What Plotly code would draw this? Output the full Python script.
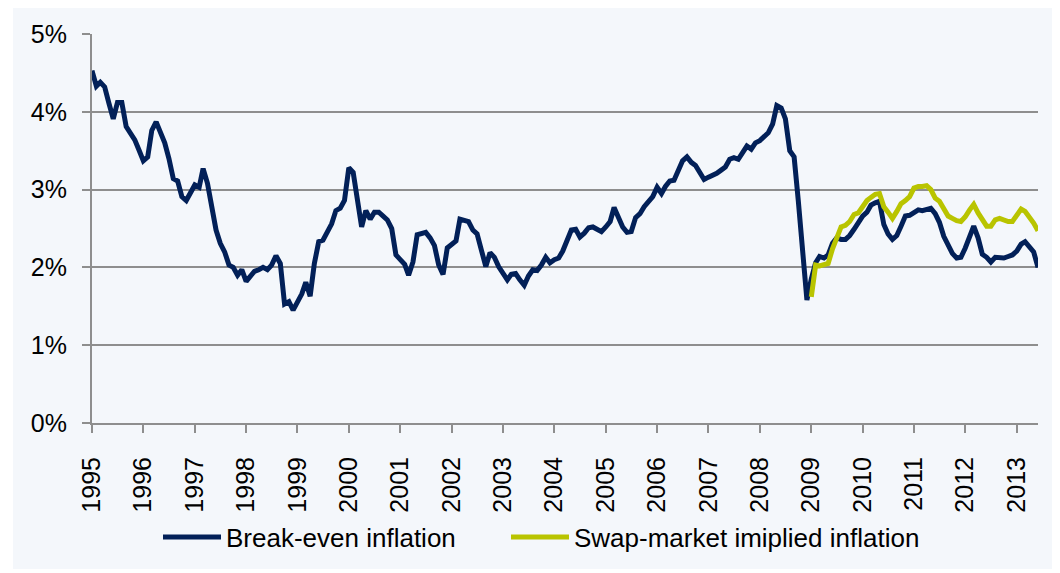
import pandas as pd
import plotly.graph_objects as go

# Monthly observations, Jan 1995 .. Jun 2013
start_month = "1995-01-01"
n_months = 222

break_even = [
    4.53, 4.33, 4.38, 4.32, 4.11, 3.91, 4.12, 4.12, 3.81, 3.73, 3.64, 3.51,
    3.37, 3.42, 3.76, 3.87, 3.73, 3.60, 3.40, 3.14, 3.11, 2.91, 2.86, 2.97,
    3.06, 3.03, 3.27, 3.08, 2.82, 2.48, 2.31, 2.20, 2.03, 2.00, 1.90, 1.97,
    1.82, 1.88, 1.95, 1.97, 2.00, 1.97, 2.03, 2.15, 2.05, 1.53, 1.56, 1.45,
    1.56, 1.66, 1.81, 1.63, 2.05, 2.33, 2.35, 2.47, 2.56, 2.73, 2.76, 2.86,
    3.28, 3.22, 2.91, 2.52, 2.73, 2.62, 2.71, 2.71, 2.66, 2.61, 2.50, 2.16,
    2.10, 2.04, 1.90, 2.07, 2.42, 2.43, 2.45, 2.38, 2.28, 2.03, 1.91, 2.25,
    2.30, 2.34, 2.62, 2.61, 2.59, 2.48, 2.43, 2.22, 2.01, 2.19, 2.13, 2.01,
    1.91, 1.84, 1.91, 1.92, 1.84, 1.77, 1.89, 1.97, 1.96, 2.03, 2.13, 2.06,
    2.10, 2.12, 2.21, 2.34, 2.48, 2.49, 2.39, 2.44, 2.51, 2.52, 2.49, 2.46,
    2.52, 2.59, 2.77, 2.65, 2.52, 2.45, 2.46, 2.64, 2.69, 2.78, 2.84, 2.91,
    3.03, 2.95, 3.04, 3.11, 3.12, 3.23, 3.37, 3.42, 3.35, 3.31, 3.22, 3.13,
    3.16, 3.18, 3.21, 3.25, 3.29, 3.39, 3.41, 3.39, 3.47, 3.56, 3.52, 3.60,
    3.63, 3.69, 3.73, 3.84, 4.08, 4.05, 3.91, 3.50, 3.42, 2.85, 2.14, 1.58,
    1.85, 2.06, 2.14, 2.12, 2.16, 2.31, 2.38, 2.36, 2.36, 2.41, 2.49, 2.59,
    2.66, 2.71, 2.80, 2.83, 2.85, 2.55, 2.43, 2.36, 2.41, 2.53, 2.66, 2.67,
    2.70, 2.74, 2.73, 2.74, 2.76, 2.69, 2.58, 2.40, 2.28, 2.18, 2.12, 2.13,
    2.25, 2.40, 2.53, 2.38, 2.17, 2.13, 2.07, 2.13, 2.12, 2.12, 2.14, 2.16,
    2.21, 2.30, 2.33, 2.27, 2.20, 2.00,
]

# Swap-market implied inflation starts Jan 2009 (month index 168)
swap_start_index = 168
swap_implied = [
    1.62, 2.03, 2.02, 2.03, 2.05, 2.24, 2.38, 2.52, 2.54, 2.59, 2.68, 2.70,
    2.78, 2.86, 2.90, 2.94, 2.95, 2.78, 2.71, 2.63, 2.72, 2.82, 2.86, 2.91,
    3.02, 3.04, 3.04, 3.05, 3.00, 2.89, 2.85, 2.75, 2.66, 2.63, 2.60, 2.59,
    2.65, 2.74, 2.81, 2.70, 2.61, 2.53, 2.53, 2.61, 2.63, 2.61, 2.59, 2.59,
    2.66, 2.75, 2.72, 2.65, 2.57, 2.47,
]

years = list(range(1995, 2014))
y_ticks = [0, 1, 2, 3, 4, 5]

series_names = ["Break-even inflation", "Swap-market imiplied inflation"]
navy = "#022058"
lime = "#b9c400"
grid = "#8e8e8e"
bg = "#f4f7fb"

months = pd.date_range(start_month, periods=n_months, freq="MS")
swap_x = months[swap_start_index:swap_start_index + len(swap_implied)]

fig = go.Figure()
fig.add_trace(go.Scatter(x=months, y=break_even, mode="lines", name=series_names[0],
                         line=dict(color=navy, width=5), legend="legend"))
fig.add_trace(go.Scatter(x=swap_x, y=swap_implied, mode="lines", name=series_names[1],
                         line=dict(color=lime, width=5), legend="legend2"))

# page body adds an 8px offset; compensate so the screenshot matches
OFF = 8
W, H = 1060, 573
ml, mr, mt, mb = 92 - OFF, 30, 34 - OFF, 158
pw = W - ml - mr
ph = H - mt - mb


def px_to_paper_x(sx):
    return (sx - OFF - ml) / pw


def px_to_paper_y(sy):
    return (H - mb - (sy - OFF)) / ph


fig.add_shape(type="rect", xref="paper", yref="paper",
              x0=px_to_paper_x(13), x1=px_to_paper_x(1054),
              y0=px_to_paper_y(569), y1=px_to_paper_y(5),
              fillcolor=bg, line=dict(width=0), layer="below")

font_family = "Liberation Sans, Arial, sans-serif"
legend_common = dict(orientation="h", xanchor="left", yanchor="middle",
                     y=px_to_paper_y(537), font=dict(size=26),
                     bgcolor="rgba(0,0,0,0)", itemwidth=58)

fig.update_layout(
    width=W, height=H,
    margin=dict(l=ml, r=mr, t=mt, b=mb, autoexpand=False),
    paper_bgcolor="white",
    plot_bgcolor=bg,
    font=dict(family=font_family, size=25, color="black"),
    showlegend=True,
    legend=dict(x=px_to_paper_x(158), **legend_common),
    legend2=dict(x=px_to_paper_x(506), **legend_common),
    xaxis=dict(
        type="date",
        range=[months[0], months[-1]],
        tickvals=[pd.Timestamp(f"{y}-01-01") for y in years],
        ticktext=[str(y) for y in years],
        tickangle=-90,
        ticks="outside", ticklen=8, tickwidth=2, tickcolor=grid,
        showline=True, linecolor=grid, linewidth=2,
        showgrid=False, zeroline=False,
        ticklabelstandoff=14,
        tickfont=dict(size=25),
        automargin=False,
    ),
    yaxis=dict(
        range=[0, 5],
        tickvals=y_ticks,
        ticktext=[f"{v}%" for v in y_ticks],
        ticks="outside", ticklen=8, tickwidth=2, tickcolor=grid,
        showline=True, linecolor=grid, linewidth=2,
        showgrid=True, gridcolor=grid, gridwidth=2,
        zeroline=False,
        ticklabelstandoff=10,
        tickfont=dict(size=25),
        automargin=False,
    ),
)

fig.write_html("out.html")
